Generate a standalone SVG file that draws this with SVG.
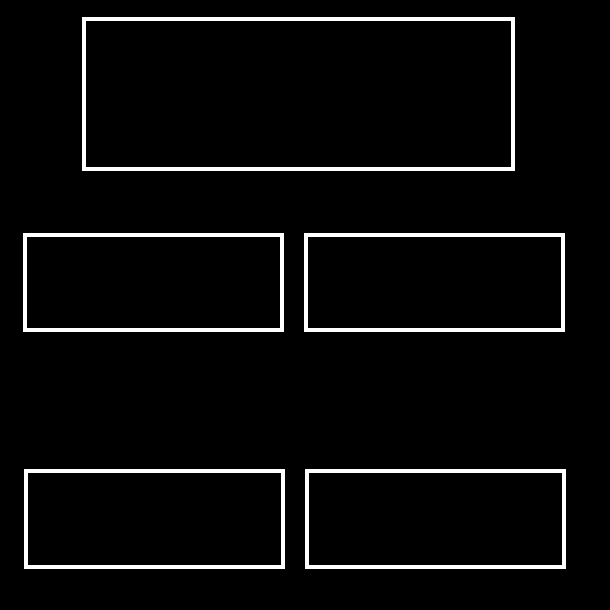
<svg xmlns="http://www.w3.org/2000/svg" width="610" height="610" viewBox="0 0 610 610">
<style>
.box{fill:#000;stroke:#fff;stroke-width:4}
</style>
<rect x="0" y="0" width="610" height="610" fill="#000"/>
<g id="connectors"/>
<g id="node-top"><rect class="box" x="84" y="19" width="429" height="150"/></g>
<g id="node-mid-left"><rect class="box" x="25" y="235" width="257" height="95"/></g>
<g id="node-mid-right"><rect class="box" x="306" y="235" width="257" height="95"/></g>
<g id="node-bottom-left"><rect class="box" x="26" y="471" width="257" height="96"/></g>
<g id="node-bottom-right"><rect class="box" x="307" y="471" width="257" height="96"/></g>
</svg>
